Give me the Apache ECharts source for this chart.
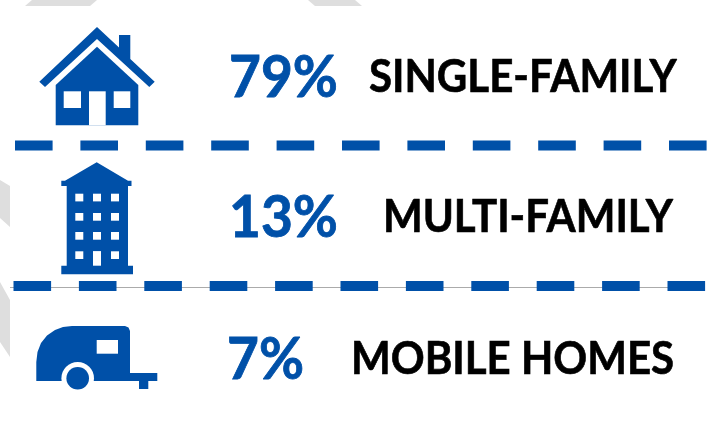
<!DOCTYPE html>
<html>
<head>
<meta charset="utf-8">
<style>
  html, body { margin: 0; padding: 0; background: #fff; }
  #chart { width: 710px; height: 425px; }
</style>
<script src="https://cdn.jsdelivr.net/npm/echarts@6/dist/echarts.min.js"></script>
</head>
<body>
<div id="chart"></div>
<script>
const categories = ['SINGLE-FAMILY', 'MULTI-FAMILY', 'MOBILE HOMES']
const shares = [79, 13, 7]

const BLUE = '#0050A8'
const GREY = '#DEDEDE'
const FONT = 'Lato, "Open Sans", sans-serif'

// where each row's text starts and its middle line
const shareX = [229, 229, 227]
const labelX = [369, 383, 351]
const rowY = [79, 219, 361]
const labelY = [78, 218, 360]

const poly = (points, fill) => ({ type: 'polygon', shape: { points }, style: { fill } })
const box = (x, y, width, height, fill) => ({ type: 'rect', shape: { x, y, width, height }, style: { fill } })
const dot = (cx, cy, r, fill) => ({ type: 'circle', shape: { cx, cy, r }, style: { fill } })

// grey bits of the background picture
const backdrop = [
  poly([[32, 0], [97, 0], [90, 6], [25, 6]], GREY),
  poly([[308, 0], [355, 0], [362, 6], [315, 6]], GREY),
  poly([[0, 180], [10, 186], [10, 227], [0, 218]], GREY),
  poly([[0, 282], [10, 300], [10, 357], [0, 342]], GREY)
]

const house = [
  poly([[97, 27], [119, 47.5], [119, 35], [130.3, 35], [130.3, 59], [154.7, 81.7], [149.3, 87],
    [97, 39], [45, 87], [39.3, 81.7]], BLUE),
  poly([[97, 46.7], [138.3, 85], [138.3, 125.3], [55.7, 125.3], [55.7, 85]], BLUE),
  box(89, 91.3, 16.7, 34, '#fff'),
  box(63.7, 91.3, 17.3, 16.7, '#fff'),
  box(113.7, 91.3, 16.6, 16.7, '#fff')
]

const windowCols = [75.3, 93, 111]
const windowRows = [193.7, 213, 232, 251.3]
const building = [
  poly([[96.7, 162.3], [128, 180.7], [131.5, 180.7], [131.5, 186], [128, 186], [128, 265.7], [133, 265.7], [133, 274.3],
    [61.3, 274.3], [61.3, 265.7], [66.7, 265.7], [66.7, 186], [61.3, 186], [61.3, 180.7], [65, 180.7]], BLUE)
]
windowRows.forEach(y => windowCols.forEach(x => building.push(box(x, y, 8, 7.7, '#fff'))))
building.push(box(93, 251.3, 8, 14.4, '#fff'))

const trailer = [
  poly([[36.3, 381], [36.3, 362], [37.5, 352], [41, 343], [47, 335.5], [55, 330], [63, 327], [72, 326], [125, 326],
    [128.5, 327.5], [130, 331], [130, 373], [157.3, 373], [157.3, 381], [148.3, 381], [148.3, 389], [139, 389], [139, 381]], BLUE),
  dot(77.7, 378.3, 16.3, '#fff'),
  box(55, 381.2, 45, 14, '#fff'),
  dot(77.7, 378.3, 11.3, BLUE),
  box(96.7, 340, 21.3, 13.7, '#fff')
]

const dashed = (x, y) => ({
  type: 'line',
  shape: { x1: x, y1: y, x2: 707, y2: y },
  style: { stroke: BLUE, lineWidth: 10, lineDash: [37.6, 27.8] }
})

const rowText = []
categories.forEach((name, i) => {
  rowText.push({
    type: 'text', x: shareX[i], y: rowY[i], scaleY: 1.03,
    style: { text: shares[i] + '%', fill: BLUE, stroke: BLUE, lineWidth: 0.8, font: 'bold 55px ' + FONT, textVerticalAlign: 'middle' }
  })
  rowText.push({
    type: 'text', x: labelX[i], y: labelY[i], scaleY: 1.07,
    style: { text: name, fill: '#000', stroke: '#000', lineWidth: 0.6, font: 'bold 42px ' + FONT, textVerticalAlign: 'middle' }
  })
})

const chart = echarts.init(document.getElementById('chart'))
chart.setOption({
  backgroundColor: '#fff',
  animation: false,
  graphic: [
    ...backdrop,
    box(10, 287, 692, 1, '#ABABAB'),
    dashed(15, 145.5),
    dashed(13.5, 286),
    ...house,
    ...building,
    ...trailer,
    ...rowText
  ]
})
</script>
</body>
</html>
